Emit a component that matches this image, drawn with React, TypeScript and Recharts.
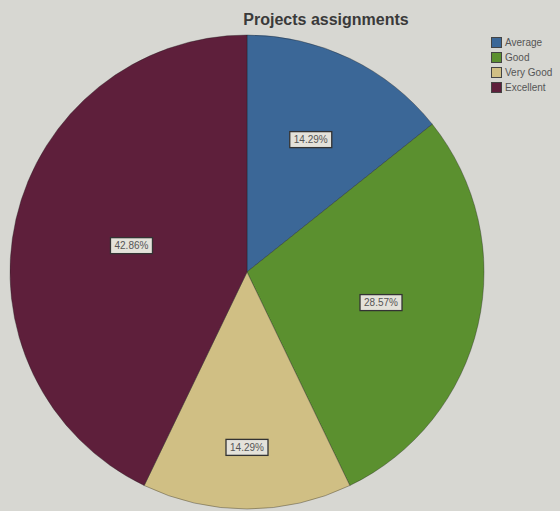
import { PieChart, Pie, Cell, Legend } from 'recharts';

const CATEGORIES = ['Average', 'Good', 'Very Good', 'Excellent'];
const COUNTS = [1, 2, 1, 3];

const COLORS = ['#3b6797', '#5b902f', '#d0bf84', '#5e1f3b'];
// distance of each slice label from the centre, as a fraction of the radius
const LABEL_RADIUS = [0.62, 0.58, 0.74, 0.5];

const data = CATEGORIES.map((name, i) => ({ name, value: COUNTS[i] }));

const RADIAN = Math.PI / 180;

function renderLabel(props: any) {
    const { cx, cy, midAngle, outerRadius, percent, index } = props;
    const r = outerRadius * LABEL_RADIUS[index];
    const x = cx + r * Math.cos(-midAngle * RADIAN);
    const y = cy + r * Math.sin(-midAngle * RADIAN);
    const text = `${(percent * 100).toFixed(2)}%`;
    return (
        <g>
            <rect x={x - 21} y={y - 8} width={42} height={16} fill="#e4e2da" stroke="#333" strokeWidth={1.3} />
            <text x={x} y={y + 3.5} textAnchor="middle" fontSize={10} fontFamily="Arial, Liberation Sans, sans-serif" fill="#555">
                {text}
            </text>
        </g>
    );
}

function LegendBox() {
    return (
        <div style={{ fontFamily: 'Arial, Liberation Sans, sans-serif', fontSize: 10, color: '#555' }}>
            {CATEGORIES.map((name, i) => (
                <div key={name} style={{ display: 'flex', alignItems: 'center', height: 15, whiteSpace: 'nowrap' }}>
                    <span
                        style={{
                            display: 'inline-block',
                            width: 9,
                            height: 9,
                            background: COLORS[i],
                            border: '1px solid #444',
                            marginRight: 3,
                        }}
                    />
                    {name}
                </div>
            ))}
        </div>
    );
}

export default function App() {
    return (
        <div style={{ position: 'absolute', left: 0, top: 0, width: 560, height: 511, background: '#d7d7d2', overflow: 'hidden' }}>
            <div
                style={{
                    position: 'absolute',
                    top: 11,
                    left: 226,
                    width: 200,
                    textAlign: 'center',
                    fontFamily: 'Arial, Liberation Sans, sans-serif',
                    fontWeight: 'bold',
                    fontSize: 16,
                    color: '#3a3a3a',
                }}
            >
                Projects assignments
            </div>
            <PieChart width={560} height={511} margin={{ top: 0, right: 0, bottom: 0, left: 0 }}>
                <Pie
                    data={data}
                    dataKey="value"
                    nameKey="name"
                    cx={247}
                    cy={272}
                    outerRadius={237}
                    startAngle={90}
                    endAngle={-270}
                    stroke="rgba(30,30,30,0.35)"
                    strokeWidth={1}
                    labelLine={false}
                    label={renderLabel}
                    isAnimationActive={false}
                >
                    {data.map((entry, index) => (
                        <Cell key={`cell-${index}`} fill={COLORS[index]} />
                    ))}
                </Pie>
                <Legend
                    content={() => <LegendBox />}
                    layout="vertical"
                    verticalAlign="top"
                    align="right"
                    wrapperStyle={{ position: 'absolute', top: 35, left: 491, width: 69 }}
                />
            </PieChart>
        </div>
    );
}
